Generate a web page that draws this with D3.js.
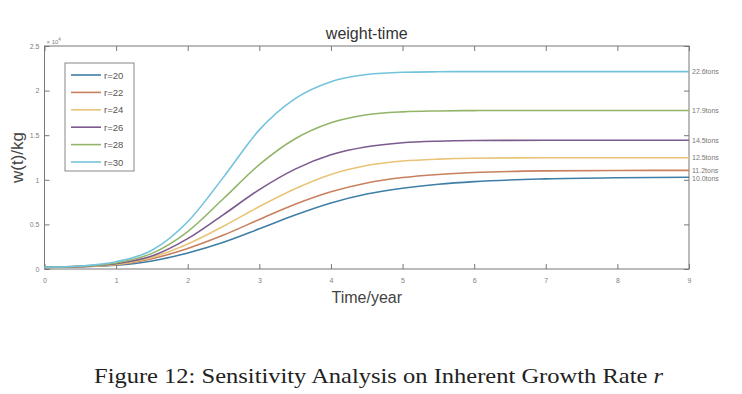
<!DOCTYPE html>
<html>
<head>
<meta charset="utf-8">
<script src="https://cdn.jsdelivr.net/npm/d3@7"></script>
<style>
  body { margin: 0; background: #fff; }
  svg { display: block; font-family: "Liberation Sans", Arial, sans-serif; }
</style>
</head>
<body>
<svg width="742" height="394"></svg>
<script>
// data (kg)
let times = [0, 0.5, 1, 1.5, 2, 2.5, 3, 3.5, 4, 4.5, 5, 5.5, 6, 7, 8, 9];
let r20 = [180, 260, 420, 900, 1800, 3000, 4500, 6050, 7400, 8400, 9050, 9500, 9800, 10100, 10230, 10280];
let r22 = [180, 270, 470, 1150, 2300, 3800, 5550, 7250, 8650, 9650, 10250, 10600, 10820, 11000, 11050, 11060];
let r24 = [180, 280, 520, 1300, 2800, 4800, 7000, 9000, 10600, 11600, 12100, 12320, 12420, 12470, 12480, 12480];
let r26 = [180, 290, 580, 1450, 3400, 6100, 8900, 11200, 12800, 13700, 14150, 14330, 14400, 14430, 14430, 14430];
let r28 = [180, 310, 680, 1750, 4200, 7900, 11700, 14600, 16400, 17300, 17620, 17720, 17760, 17770, 17770, 17770];
let r30 = [180, 330, 820, 2100, 5300, 10300, 15600, 19100, 21000, 21800, 22050, 22110, 22130, 22130, 22130, 22130];
let seriesNames = ["r=20", "r=22", "r=24", "r=26", "r=28", "r=30"];
let endLabels = ["10.0tons", "11.2tons", "12.5tons", "14.5tons", "17.9tons", "22.6tons"];
let colors = ["#3f7ea6", "#c8805e", "#e8c477", "#7b5a8e", "#93b56a", "#74c3dd"];
let xTicks = [0, 1, 2, 3, 4, 5, 6, 7, 8, 9];
let yTicks = [0, 5000, 10000, 15000, 20000, 25000];

let svg = d3.select("svg");
let pLeft = 44.5, pRight = 689, pTop = 46, pBottom = 269;

let x = d3.scaleLinear().domain([0, 9]).range([pLeft, pRight]);
let y = d3.scaleLinear().domain([0, 25000]).range([pBottom, pTop]);

let allSeries = [r20, r22, r24, r26, r28, r30].map((vals, i) => ({
    name: seriesNames[i],
    color: colors[i],
    label: endLabels[i],
    points: vals.map((v, j) => ({t: times[j], w: v}))
}));

// axes with inward ticks (matlab style box)
function styleAxis(g){
    g.select(".domain").remove();
    g.selectAll(".tick line").attr("stroke", "#777");
    g.selectAll(".tick text").attr("fill", "#808080").style("font-size", "7px");
}

svg.append("g")
    .attr("transform", `translate(0,${pBottom})`)
    .call(d3.axisBottom(x).tickValues(xTicks).tickSizeInner(-5).tickSizeOuter(0).tickPadding(9))
    .call(styleAxis);

svg.append("g")
    .attr("transform", `translate(0,${pTop})`)
    .call(d3.axisTop(x).tickValues(xTicks).tickSizeInner(-5).tickSizeOuter(0).tickFormat(""))
    .call(styleAxis);

svg.append("g")
    .attr("transform", `translate(${pLeft},0)`)
    .call(d3.axisLeft(y).tickValues(yTicks).tickSizeInner(-5).tickSizeOuter(0).tickPadding(5)
        .tickFormat(d => d3.format("~g")(d / 10000)))
    .call(styleAxis);

svg.append("g")
    .attr("transform", `translate(${pRight},0)`)
    .call(d3.axisRight(y).tickValues(yTicks).tickSizeInner(-5).tickSizeOuter(0).tickFormat(""))
    .call(styleAxis);

svg.append("rect")
    .attr("x", pLeft).attr("y", pTop)
    .attr("width", pRight - pLeft).attr("height", pBottom - pTop)
    .attr("fill", "none").attr("stroke", "#777").attr("stroke-width", 1);

// exponent
let expo = svg.append("text")
    .attr("x", pLeft + 2).attr("y", pTop - 2)
    .attr("fill", "#808080").style("font-size", "6px")
    .text("× 10");
expo.append("tspan").attr("dy", -3).style("font-size", "4.5px").text("4");

// lines
let line = d3.line()
    .x(d => x(d.t))
    .y(d => y(d.w))
    .curve(d3.curveMonotoneX);

svg.append("g")
    .selectAll("path")
    .data(allSeries).enter().append("path")
        .attr("d", d => line(d.points))
        .attr("fill", "none")
        .attr("stroke", d => d.color)
        .attr("stroke-width", 1.6);

// end labels, nudged apart when they crowd
let labelY = allSeries.map(d => y(d.points[d.points.length - 1].w) + 2.5);
for (let i = 0; i < labelY.length - 1; i++) {
    if (labelY[i] - labelY[i + 1] < 8) labelY[i] = labelY[i + 1] + 8;
}
svg.append("g")
    .selectAll("text")
    .data(allSeries).enter().append("text")
        .attr("x", pRight + 3)
        .attr("y", (d, i) => labelY[i])
        .attr("fill", "#777")
        .style("font-size", "7px")
        .text(d => d.label);

// legend
let legend = svg.append("g").attr("transform", "translate(65,63)");
legend.append("rect")
    .attr("width", 69).attr("height", 108)
    .attr("fill", "#fff").attr("stroke", "#888").attr("stroke-width", 1);
let items = legend.selectAll("g")
    .data(allSeries).enter().append("g")
        .attr("transform", (d, i) => `translate(0,${12 + i * 17.4})`);
items.append("line")
    .attr("x1", 6).attr("x2", 36)
    .attr("stroke", d => d.color).attr("stroke-width", 1.6);
items.append("text")
    .attr("x", 39).attr("y", 3.5)
    .attr("fill", "#555").style("font-size", "9.5px")
    .text(d => d.name);

// titles
svg.append("text")
    .attr("x", (pLeft + pRight) / 2).attr("y", 39)
    .attr("text-anchor", "middle").attr("fill", "#333")
    .style("font-size", "16px")
    .text("weight-time");

svg.append("text")
    .attr("x", (pLeft + pRight) / 2).attr("y", 303)
    .attr("text-anchor", "middle").attr("fill", "#444")
    .style("font-size", "16px")
    .text("Time/year");

svg.append("text")
    .attr("transform", `translate(23,${(pTop + pBottom) / 2}) rotate(-90)`)
    .attr("text-anchor", "middle").attr("fill", "#444")
    .style("font-size", "17px")
    .text("w(t)/kg");

// caption
let cap = svg.append("text")
    .attr("x", 94).attr("y", 383)
    .attr("fill", "#222")
    .attr("textLength", 569)
    .attr("lengthAdjust", "spacingAndGlyphs")
    .style("font-family", "'Liberation Serif', 'DejaVu Serif', serif")
    .style("font-size", "21px")
    .text("Figure 12: Sensitivity Analysis on Inherent Growth Rate ");
cap.append("tspan").style("font-style", "italic").text("r");
</script>
</body>
</html>
